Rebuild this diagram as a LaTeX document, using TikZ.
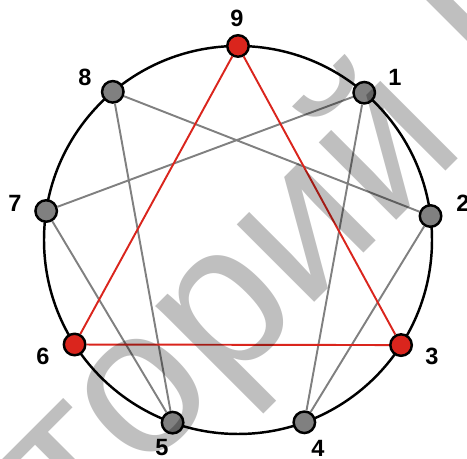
\documentclass[tikz,border=0pt]{standalone}
\usepackage{fontspec}
\setmainfont{Liberation Sans}
\usetikzlibrary{positioning,calc}
\definecolor{rojo}{HTML}{DA251D}
\definecolor{gris}{HTML}{808080}
\tikzset{
  vertice/.style={circle, draw=black, line width=1.4pt, fill=gris, minimum size=0.43cm, inner sep=0pt},
  verticeRojo/.style={vertice, fill=rojo},
  linea/.style={draw=gris, line width=1.1pt},
  lineaRoja/.style={draw=rojo, line width=1.1pt},
  numero/.style={font=\fontsize{13.4}{15}\selectfont\bfseries, inner sep=0pt},
  marca/.style={font=\fontsize{118}{118}\selectfont, text=black, text opacity=0.25, inner sep=0pt},
}

\begin{document}
\begin{tikzpicture}[x=0.02cm, y=0.02cm]
          \useasboundingbox (0,0) rectangle (467,459);
          \clip (0,0) rectangle (467,459);
          \coordinate (c) at (238,219);
          \draw[line width=1.4pt] (c) circle (194);
          \node[verticeRojo] (v9) at ($(c)+(90:194)$) {};
          \node[vertice] (v1) at ($(c)+(49.4:194)$) {};
          \node[vertice] (v2) at ($(c)+(7.1:194)$) {};
          \node[verticeRojo] (v3) at ($(c)+(-32.8:194)$) {};
          \node[vertice] (v4) at ($(c)+(-70:194)$) {};
          \node[vertice] (v5) at ($(c)+(-109.7:194)$) {};
          \node[verticeRojo] (v6) at ($(c)+(-147.4:194)$) {};
          \node[vertice] (v7) at ($(c)+(171.4:194)$) {};
          \node[vertice] (v8) at ($(c)+(130.2:194)$) {};
          \draw[linea] (v1) -- (v4) -- (v2) -- (v8) -- (v5) -- (v7) -- (v1);
          \draw[lineaRoja] (v9) -- (v3) -- (v6) -- (v9);
          \node[numero] (n9) at (237,441) {9};
          \node[numero] (n1) at (395,382) {1};
          \node[numero] (n2) at (463,256) {2};
          \node[numero] (n3) at (432,103) {3};
          \node[numero] (n4) at (318,11) {4};
          \node[numero] (n5) at (162,11) {5};
          \node[numero] (n6) at (43,103) {6};
          \node[numero] (n7) at (15,256) {7};
          \node[numero] (n8) at (85,382) {8};
          \node[marca, rotate=45, anchor=base west] (agua) at (76,-82) {торий Б};
        \end{tikzpicture}
\end{document}
